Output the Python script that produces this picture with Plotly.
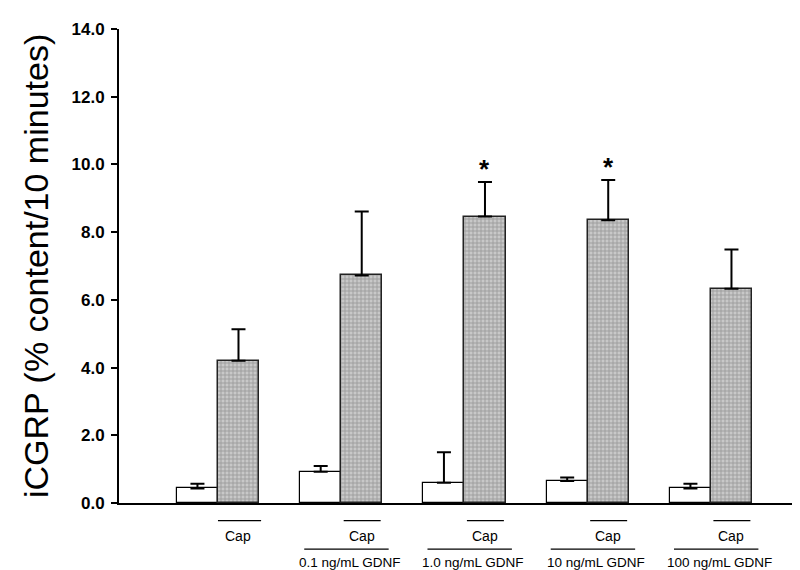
import plotly.graph_objects as go

# ---- data ----
groups = ["", "0.1 ng/mL GDNF", "1.0 ng/mL GDNF", "10 ng/mL GDNF", "100 ng/mL GDNF"]
basal_values = [0.43, 0.92, 0.60, 0.65, 0.43]
basal_errors = [0.14, 0.17, 0.90, 0.10, 0.14]
cap_values = [4.20, 6.72, 8.46, 8.35, 6.33]
cap_errors = [0.93, 1.89, 1.02, 1.19, 1.16]
significant = [False, False, True, True, False]
cap_label = "Cap"
y_ticks = [0, 2, 4, 6, 8, 10, 12, 14]
y_ticktext = ["0.0", "2.0", "4.0", "6.0", "8.0", "10.0", "12.0", "14.0"]
y_title = "iCGRP (% content/10 minutes)"

pos = list(range(1, len(groups) + 1))
bw = 0.333
FONT = "Liberation Sans, Arial, sans-serif"

fig = go.Figure()
fig.add_trace(go.Bar(
    x=[p - bw / 2 for p in pos], y=basal_values, width=bw,
    marker=dict(color="white", line=dict(color="black", width=1.2)),
    error_y=dict(type="data", array=basal_errors, arrayminus=[0] * 5, symmetric=False,
                 color="black", thickness=2, width=7),
    showlegend=False,
))
fig.add_trace(go.Bar(
    x=[p + bw / 2 for p in pos], y=cap_values, width=bw,
    marker=dict(color="#c0c0c0", line=dict(color="#222222", width=1.5),
                pattern=dict(shape="+", fgcolor="#6e6e6e", bgcolor="#c8c8c8", size=4, solidity=0.4)),
    error_y=dict(type="data", array=cap_errors, arrayminus=[0] * 5, symmetric=False,
                 color="black", thickness=2, width=7),
    showlegend=False,
))

annotations = []
shapes = []

def py(px):
    return (495 - px) / 482.0

for i, p in enumerate(pos):
    x0, x1 = (p, p + 0.35) if i == 0 else (p + 0.02, p + 0.32)
    shapes.append(dict(type="line", xref="x", yref="paper", x0=x0, x1=x1,
                       y0=py(513), y1=py(513), line=dict(color="black", width=1.2)))
    annotations.append(dict(x=p + bw / 2, y=py(529), xref="x", yref="paper", text=cap_label,
                            showarrow=False, xanchor="center", yanchor="middle",
                            font=dict(family=FONT, size=14, color="black")))
    if groups[i]:
        shapes.append(dict(type="line", xref="x", yref="paper", x0=p - 0.30, x1=p + 0.385,
                           y0=py(542), y1=py(542), line=dict(color="black", width=1.2)))
        annotations.append(dict(x=p + 0.07, y=py(555), xref="x", yref="paper", text=groups[i],
                                showarrow=False, xanchor="center", yanchor="middle",
                                font=dict(family=FONT, size=13.5, color="black")))
    if significant[i]:
        annotations.append(dict(x=p + bw / 2, y=cap_values[i] + cap_errors[i], xref="x", yref="y",
                                text="*", showarrow=False, xanchor="center", yanchor="bottom",
                                yshift=-4, font=dict(family=FONT, size=26, color="black", weight="bold")))

annotations.append(dict(x=(28 - 111) / 676.0, y=0.5, xref="paper", yref="paper", text=y_title,
                        textangle=-90, showarrow=False, xanchor="center", yanchor="middle",
                        font=dict(family=FONT, size=34, color="black")))

fig.update_layout(
    width=800, height=570,
    margin=dict(l=111, r=13, t=13, b=75),
    paper_bgcolor="white", plot_bgcolor="white",
    barmode="overlay", bargap=0,
    annotations=annotations, shapes=shapes,
    xaxis=dict(range=[0.197, 5.682], showline=True, linecolor="black", linewidth=2,
               showticklabels=False, ticks="", showgrid=False, zeroline=False, fixedrange=True),
    yaxis=dict(range=[0, 14], tickvals=y_ticks, ticktext=y_ticktext, showline=True,
               linecolor="black", linewidth=2, ticks="outside", ticklen=6, tickwidth=2,
               tickcolor="black", showgrid=False, zeroline=False, ticklabelstandoff=3,
               tickfont=dict(family=FONT, size=17, color="black", weight="bold")),
)

fig.write_html("out.html")
